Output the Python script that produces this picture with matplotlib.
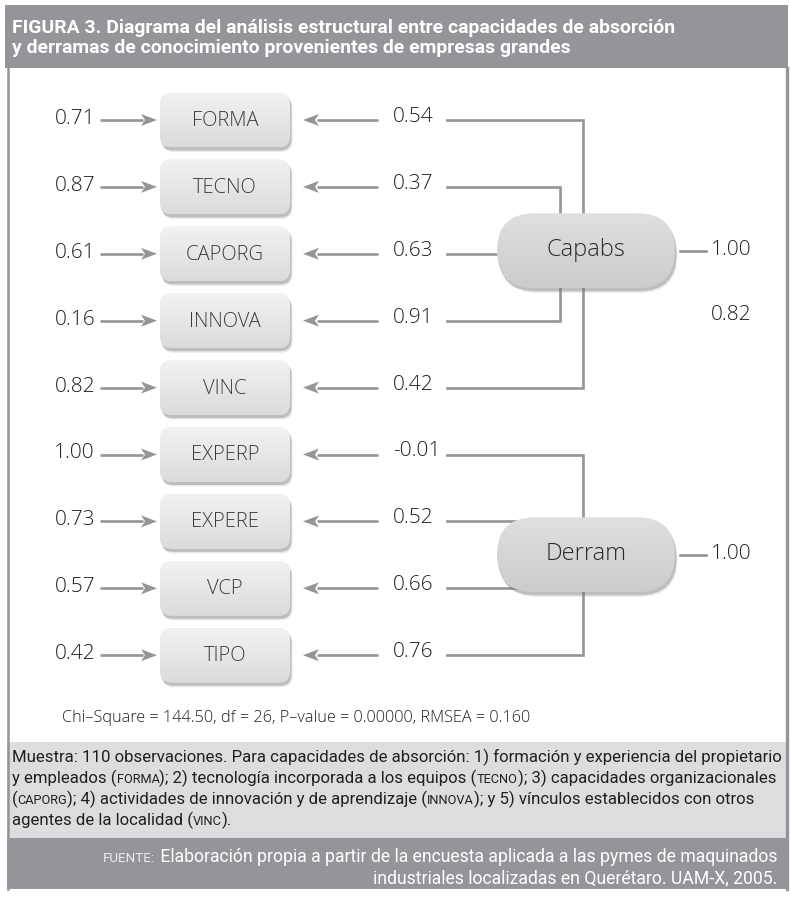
import matplotlib
matplotlib.use('Agg')
import matplotlib.pyplot as plt
import numpy as np
from matplotlib.patches import FancyBboxPatch, Rectangle, Polygon
from matplotlib.colors import LinearSegmentedColormap

# datos del modelo
indicadores = ['FORMA', 'TECNO', 'CAPORG', 'INNOVA', 'VINC',
               'EXPERP', 'EXPERE', 'VCP', 'TIPO']
errores = [0.71, 0.87, 0.61, 0.16, 0.82, 1.00, 0.73, 0.57, 0.42]
cargas = [0.54, 0.37, 0.63, 0.91, 0.42, -0.01, 0.52, 0.66, 0.76]
factores = ['Capabs', 'Derram']
var_factores = [1.00, 1.00]
correlacion = 0.82
# a que factor va cada indicador y como se conecta la linea
factor_de = [0, 0, 0, 0, 0, 1, 1, 1, 1]
conexion = ['ext', 'int', 'dir', 'int', 'ext', 'ext', 'dir', 'dir', 'ext']

titulo = ['FIGURA 3. Diagrama del análisis estructural entre capacidades de absorción',
          'y derramas de conocimiento provenientes de empresas grandes']
ajuste = 'Chi–Square = 144.50, df = 26, P–value = 0.00000, RMSEA = 0.160'
# (texto, versalitas)
notas = [
    [('Muestra: 110 observaciones. Para capacidades de absorción: 1) formación y experiencia del propietario', False)],
    [('y empleados (', False), ('forma', True), ('); 2) tecnología incorporada a los equipos (', False),
     ('tecno', True), ('); 3) capacidades organizacionales', False)],
    [('(', False), ('caporg', True), ('); 4) actividades de innovación y de aprendizaje (', False),
     ('innova', True), ('); y 5) vínculos establecidos con otros', False)],
    [('agentes de la localidad (', False), ('vinc', True), (').', False)],
]
fuente = [
    [('fuente:', True), (' Elaboración propia a partir de la encuesta aplicada a las pymes de maquinados', False)],
    [('industriales localizadas en Querétaro. UAM-X, 2005.', False)],
]

GRIS = '#939598'
TXT = '#231f20'
sans = ['Open Sans', 'DejaVu Sans']
narrow = ['Roboto', 'DejaVu Sans']

fig = plt.figure(figsize=(7.9, 8.99), dpi=100)
ax = fig.add_axes([0, 0, 1, 1])
ax.set_xlim(0, 790)
ax.set_ylim(899, 0)
ax.axis('off')
renderer = fig.canvas.get_renderer()


def ancho(s, **kw):
    t = ax.text(0, 0, '|' + s + '|', **kw)
    w1 = t.get_window_extent(renderer).width
    t.remove()
    t = ax.text(0, 0, '||', **kw)
    w2 = t.get_window_extent(renderer).width
    t.remove()
    return w1 - w2


def piezas_de(partes, size, color, sc_color=None, weight='normal'):
    res = []
    for s, sc in partes:
        kw = dict(fontsize=size * 0.76 if sc else size, family=narrow, fontweight=weight,
                  color=(sc_color or color) if sc else color)
        s = s.upper() if sc else s
        res.append((s, kw, ancho(s, **kw)))
    return res


def talla(partes, objetivo, weight='normal'):
    # tamano de letra para que la linea ocupe el ancho del original
    w = sum(p[2] for p in piezas_de(partes, 10, 'k', weight=weight))
    return 10 * objetivo / w


def linea_mixta(x, y, partes, size, color, sc_color=None, ha='left', weight='normal'):
    piezas = piezas_de(partes, size, color, sc_color, weight)
    if ha == 'right':
        x -= sum(p[2] for p in piezas)
    for s, kw, w in piezas:
        ax.text(x, y, s, va='baseline', ha='left', **kw)
        x += w


# marco
ax.add_patch(Rectangle((5, 5), 783, 63, fc=GRIS, ec='none', zorder=0))
ax.add_patch(Rectangle((7, 742), 779, 96, fc='#dcddde', ec='none', zorder=0))
ax.add_patch(Rectangle((7, 838), 781, 51, fc=GRIS, ec='none', zorder=0))
ax.plot([7.5, 7.5], [68, 889], color=GRIS, lw=1.8, zorder=0)
ax.plot([786.5, 786.5], [68, 889], color=GRIS, lw=2.4, zorder=0)

t_size = talla([(titulo[0], False)], 666, weight='bold')
for i, linea in enumerate(titulo):
    linea_mixta(12, 33 + 20 * i, [(linea, False)], t_size, 'white', weight='bold')


def caja(x, y, w, h, r, arriba, abajo, z=3):
    estilo = f'round,pad=0,rounding_size={r}'
    for dx, dy, a in [(1.5, 3.0, 0.35), (2.5, 4.5, 0.15)]:
        ax.add_patch(FancyBboxPatch((x + dx, y + dy), w, h, boxstyle=estilo,
                                    fc='#6d6e71', ec='none', alpha=a, zorder=z - 0.5))
    p = FancyBboxPatch((x, y), w, h, boxstyle=estilo, fc='none', ec='none', zorder=z)
    ax.add_patch(p)
    cmap = LinearSegmentedColormap.from_list('g', [arriba, abajo])
    im = ax.imshow(np.linspace(0, 1, 100).reshape(-1, 1), cmap=cmap,
                   extent=(x, x + w, y + h, y), aspect='auto', zorder=z,
                   interpolation='bicubic')
    im.set_clip_path(p)


def flecha(x0, x1, y):
    # linea con punta tipo "stealth" en x1
    d = np.sign(x1 - x0)
    L, hw, n = 16, 6, 4
    ax.plot([x0, x1 - d * (L - 2)], [y, y], color=GRIS, lw=1.9, solid_capstyle='butt', zorder=2)
    ax.add_patch(Polygon([(x1, y), (x1 - d * L, y - hw), (x1 - d * (L - n), y),
                          (x1 - d * L, y + hw)], closed=True, fc=GRIS, ec='none', zorder=2))


ys = 120 + 66.9 * np.arange(len(indicadores))
cy_f = [ys[2] - 3, (ys[6] + ys[7]) / 2]
px0, px1, ph = 497, 675, 75
cx_f = (px0 + px1) / 2
jx = {'ext': 583, 'int': 560}
num = dict(fontsize=15, color=TXT, family=sans, fontweight='light')

for i, nombre in enumerate(indicadores):
    y = ys[i]
    ax.text(95, y - 1, f'{errores[i]:.2f}', ha='right', va='center', **num)
    flecha(100, 157, y)
    caja(160, y - 27.5, 130, 55, 11, '#f2f2f3', '#dadbdd')
    ax.text(225, y + 1, nombre, ha='center', va='center', fontsize=14.5, color='#3b3b3d',
            family=sans, fontweight='light')
    flecha(378, 303, y)
    ax.text(393, y - 3, f'{cargas[i]:.2f}', ha='left', va='center', **num)
    f = factor_de[i]
    cy = cy_f[f]
    if conexion[i] == 'dir':
        xs, yy = [447, cx_f], [y, y]
    else:
        xs, yy = [447, jx[conexion[i]], jx[conexion[i]]], [y, y, cy]
    ax.plot(xs, yy, color=GRIS, lw=1.9, zorder=1, solid_joinstyle='miter')

for f, nombre in enumerate(factores):
    cy = cy_f[f]
    caja(px0, cy - ph / 2, px1 - px0, ph, ph / 2, '#dedfe1', '#cbccce', z=4)
    ax.text(cx_f, cy - 1, nombre, ha='center', va='center', fontsize=17, color='#2b2b2d',
            family=sans, fontweight='light', zorder=5)
    ax.plot([680, 706], [cy, cy], color=GRIS, lw=1.9, zorder=2)
    ax.text(711, cy - 1, f'{var_factores[f]:.2f}', ha='left', va='center', **num)

ax.text(711, 315, f'{correlacion:.2f}', ha='left', va='center', **num)

ax.text(62, 718, ajuste, ha='left', va='center', fontsize=11.7, color=TXT, family=sans,
        fontweight='light')

n_size = talla(notas[0], 771)
for i, partes in enumerate(notas):
    linea_mixta(12, 762 + 21 * i, partes, n_size, TXT)
for i, partes in enumerate(fuente):
    linea_mixta(777, 862 + 21 * i, partes, n_size * 1.05, 'white', sc_color='#ececec',
                ha='right')

ax.set_xlim(0, 790)
ax.set_ylim(899, 0)
fig.savefig('out.png', dpi=100)
